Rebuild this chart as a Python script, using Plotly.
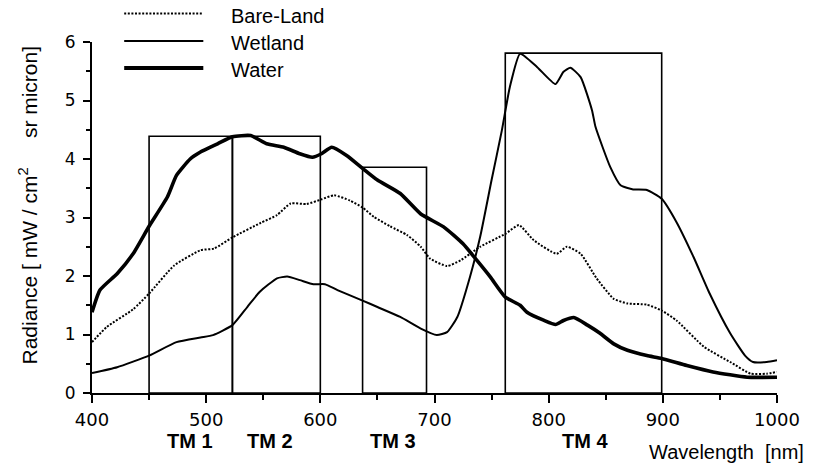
import plotly.graph_objects as go

# ---- data ----
water_wl = [400, 407, 422, 436, 450, 466, 474, 486, 495, 510, 523, 539, 553, 568, 582, 593, 601, 610, 623,
            637, 650, 670, 688, 708, 725, 737, 749, 762, 775, 781, 796, 806, 813, 822, 834, 845, 857, 869,
            886, 899, 921, 944, 974, 1000]
water_val = [1.38, 1.76, 2.04, 2.38, 2.85, 3.35, 3.72, 4.0, 4.12, 4.26, 4.38, 4.40, 4.26, 4.2, 4.09, 4.03,
             4.09, 4.2, 4.06, 3.84, 3.64, 3.41, 3.06, 2.84, 2.55, 2.27, 1.98, 1.64, 1.5, 1.38, 1.24, 1.17,
             1.24, 1.29, 1.16, 1.02, 0.84, 0.73, 0.64, 0.59, 0.47, 0.36, 0.27, 0.27]

wetland_wl = [400, 422, 450, 474, 495, 506, 523, 536, 547, 562, 571, 582, 594, 604, 615, 637, 650, 670,
              688, 702, 711, 720, 731, 740, 750, 759, 766, 775, 790, 806, 813, 819, 828, 838, 841, 854,
              863, 874, 886, 899, 912, 927, 941, 959, 972, 979, 991, 1000]
wetland_val = [0.34, 0.44, 0.64, 0.87, 0.95, 0.99, 1.16, 1.47, 1.73, 1.96, 1.99, 1.93, 1.86, 1.86, 1.76,
               1.58, 1.47, 1.3, 1.1, 0.99, 1.04, 1.3, 1.98, 2.67, 3.64, 4.49, 5.23, 5.8, 5.57, 5.28, 5.49,
               5.56, 5.4, 4.83, 4.55, 3.86, 3.55, 3.48, 3.47, 3.32, 2.92, 2.32, 1.7, 1.02, 0.64, 0.53,
               0.53, 0.56]

bare_wl = [400, 413, 436, 450, 472, 495, 507, 523, 548, 562, 574, 588, 601, 612, 626, 637, 647, 661, 676,
           688, 696, 711, 723, 740, 762, 774, 787, 807, 816, 828, 842, 857, 869, 886, 899, 912, 936, 959,
           977, 991, 1000]
bare_val = [0.87, 1.13, 1.43, 1.7, 2.18, 2.44, 2.47, 2.66, 2.91, 3.04, 3.24, 3.23, 3.31, 3.38, 3.29, 3.17,
            3.01, 2.85, 2.7, 2.5, 2.3, 2.17, 2.27, 2.5, 2.72, 2.87, 2.61, 2.38, 2.5, 2.38, 1.96, 1.61,
            1.53, 1.51, 1.41, 1.24, 0.79, 0.53, 0.33, 0.33, 0.36]

# Landsat TM bands drawn as boxes
band_names = ["TM 1", "TM 2", "TM 3", "TM 4"]
band_lo = [450, 523, 637, 762]
band_hi = [523, 600, 693, 899]
band_top = [4.39, 4.39, 3.86, 5.81]
band_label_x = [486, 556, 664, 832]

x_ticks = [400, 500, 600, 700, 800, 900, 1000]
y_ticks = [0, 1, 2, 3, 4, 5, 6]

series_names = ["Bare-Land", "Wetland", "Water"]

# ---- figure ----
fig = go.Figure()
fig.add_trace(go.Scatter(x=bare_wl, y=bare_val, mode="lines", name=series_names[0],
                         line=dict(color="black", width=2, dash="2px,1.6px", shape="spline", smoothing=0.5)))
fig.add_trace(go.Scatter(x=wetland_wl, y=wetland_val, mode="lines", name=series_names[1],
                         line=dict(color="black", width=2, shape="spline", smoothing=0.5)))
fig.add_trace(go.Scatter(x=water_wl, y=water_val, mode="lines", name=series_names[2],
                         line=dict(color="black", width=3.6, shape="spline", smoothing=0.5)))

for lo, hi, top in zip(band_lo, band_hi, band_top):
    fig.add_shape(type="rect", xref="x", yref="y", x0=lo, x1=hi, y0=0, y1=top,
                  line=dict(color="black", width=1.6), fillcolor="rgba(0,0,0,0)")

for name, lx in zip(band_names, band_label_x):
    fig.add_annotation(x=lx, y=0, xref="x", yref="paper", text="<b>" + name + "</b>", showarrow=False,
                       yanchor="middle", yshift=-48,
                       font=dict(family="Liberation Sans, Arial", size=20, color="black"))

fig.add_annotation(x=0.81, y=0, xref="paper", yref="paper", text="Wavelength\u00a0\u00a0[nm]",
                   showarrow=False, xanchor="left", yanchor="middle", yshift=-59,
                   font=dict(family="Liberation Sans, Arial", size=20, color="black"))

fig.add_annotation(x=-0.093, y=0.535, xref="paper", yref="paper",
                   text="Radiance [ mW / cm<sup>2</sup>\u00a0\u00a0\u00a0\u00a0\u00a0sr micron]",
                   showarrow=False, textangle=-90, xanchor="center", yanchor="middle",
                   font=dict(family="Liberation Sans, Arial", size=21, color="black"))

# legend drawn manually (line samples + labels)
leg_line_y = [1.081, 1.003, 0.926]
leg_widths = [2, 2, 4]
leg_dash = ["2px,1.6px", "solid", "solid"]
for name, ly, w, d in zip(series_names, leg_line_y, leg_widths, leg_dash):
    fig.add_shape(type="line", xref="paper", yref="paper", x0=0.047, x1=0.1625, y0=ly, y1=ly,
                  line=dict(color="black", width=w, dash=d))
    fig.add_annotation(x=0.2, y=ly, xref="paper", yref="paper", text=name, showarrow=False,
                       xanchor="left", yanchor="middle", yshift=-2,
                       font=dict(family="Liberation Sans, Arial", size=20, color="black"))

fig.update_layout(
    width=825, height=467,
    margin=dict(l=92, r=48, t=42, b=74),
    paper_bgcolor="white", plot_bgcolor="white",
    showlegend=False,
    xaxis=dict(range=[400, 1000], tickvals=x_ticks, showgrid=False, zeroline=False,
               showline=True, linecolor="black", linewidth=2, ticks="outside", ticklen=8,
               tickwidth=2, tickcolor="black", ticklabelstandoff=1,
               minor=dict(dtick=50, ticks="outside", ticklen=5, tickwidth=1.5, tickcolor="black"),
               tickfont=dict(family="DejaVu Sans", size=18, color="black")),
    yaxis=dict(range=[0, 6], tickvals=y_ticks, showgrid=False, zeroline=False,
               showline=True, linecolor="black", linewidth=2, ticks="outside", ticklen=7,
               tickwidth=2, tickcolor="black", ticklabelstandoff=4,
               minor=dict(dtick=0.5, ticks="outside", ticklen=4, tickwidth=1.5, tickcolor="black"),
               tickfont=dict(family="DejaVu Sans", size=17, color="black")),
)

fig.write_html("out.html", config={"displayModeBar": False},
               post_script="document.body.style.margin='0px';")
